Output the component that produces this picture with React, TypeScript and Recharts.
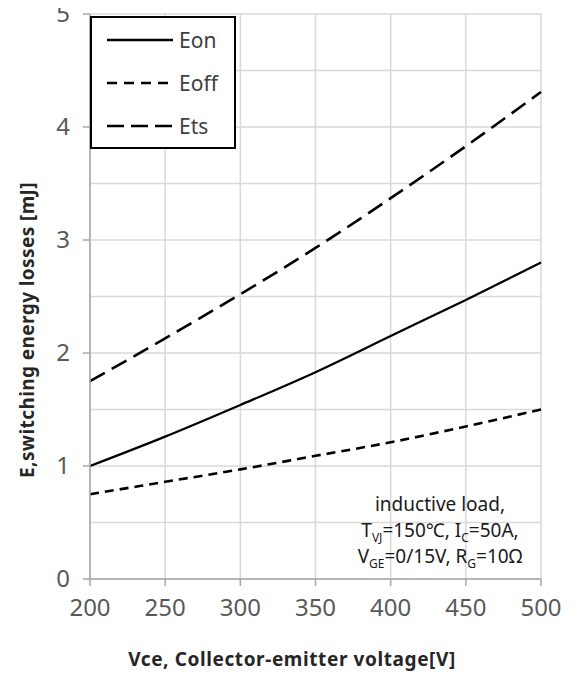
import { LineChart, Line, XAxis, YAxis, CartesianGrid, Legend } from 'recharts';

// Vce sweep points [V]
const voltages = [200, 250, 300, 350, 400, 450, 500];
// switching energy [mJ]
const eon = [1.0, 1.26, 1.54, 1.83, 2.15, 2.47, 2.8];
const eoff = [0.75, 0.86, 0.97, 1.09, 1.21, 1.35, 1.5];
const ets = [1.75, 2.13, 2.52, 2.93, 3.37, 3.83, 4.31];

const xTicks = [200, 250, 300, 350, 400, 450, 500];
const yTicks = [0, 0.5, 1, 1.5, 2, 2.5, 3, 3.5, 4, 4.5, 5];

const series = [
  { key: 'eon', name: 'Eon', dash: undefined, width: 2.2, legendDash: undefined },
  { key: 'eoff', name: 'Eoff', dash: '9 6', width: 2.6, legendDash: '10 7' },
  { key: 'ets', name: 'Ets', dash: '17 8', width: 2.6, legendDash: '17 7' },
];

const data = voltages.map((v, i) => ({ vce: v, eon: eon[i], eoff: eoff[i], ets: ets[i] }));

// chart is pulled over the body margin so these are page pixels
const W = 578;
const H = 675;
const PLOT_LEFT = 90;
const AXIS_COLOR = '#a6a6a6';
const GRID_COLOR = '#d9d9d9';
const TICK_COLOR = '#595959';
const FONT = '"Noto Sans", "Open Sans", sans-serif';

const YTick = (props: any) => {
  const { y, payload } = props;
  if (!Number.isInteger(payload.value)) return null;
  return (
    <g>
      <line x1={PLOT_LEFT - 7} x2={PLOT_LEFT} y1={y} y2={y} stroke={AXIS_COLOR} strokeWidth={1.5} />
      <text x={PLOT_LEFT - 20} y={y} dy="0.35em" textAnchor="end" fill={TICK_COLOR} fontSize={24} fontFamily={FONT}>
        {payload.value}
      </text>
    </g>
  );
};

const LegendBox = () => (
  <div
    style={{
      width: 142,
      height: 129,
      border: '2px solid #000',
      background: '#fff',
      fontFamily: FONT,
      fontSize: 21,
      color: '#404040',
      boxSizing: 'content-box',
    }}
  >
    {series.map((s, i) => (
      <div key={s.key} style={{ position: 'absolute', left: 17, top: 9 + i * 43, height: 30, display: 'flex', alignItems: 'center' }}>
        <svg width={68} height={10} style={{ display: 'block' }}>
          <line x1={0} x2={66} y1={5} y2={5} stroke="#000" strokeWidth={2.4} strokeDasharray={s.legendDash} />
        </svg>
        <span style={{ marginLeft: 4, lineHeight: '30px' }}>{s.name}</span>
      </div>
    ))}
  </div>
);

const YTitle = () => (
  <text
    x={27}
    y={330}
    transform="rotate(-90 27 330)"
    textAnchor="middle"
    dominantBaseline="central"
    fontSize={19}
    letterSpacing={0.4}
    fontWeight="bold"
    fill="#262626"
    fontFamily={FONT}
  >
    E,switching energy losses [mJ]
  </text>
);

const XTitle = () => (
  <text
    x={292}
    y={659}
    textAnchor="middle"
    dominantBaseline="central"
    fontSize={19}
    letterSpacing={0.6}
    fontWeight="bold"
    fill="#262626"
    fontFamily={FONT}
  >
    Vce, Collector-emitter voltage[V]
  </text>
);

const Sub = ({ children }: { children: string }) => (
  <span style={{ fontSize: 12, position: 'relative', top: 5, lineHeight: 0 }}>{children}</span>
);

export default function App() {
  return (
    <div style={{ position: 'relative', width: W, height: H, margin: '-8px 0 0 -8px' }}>
      <LineChart width={W} height={H} data={data} margin={{ top: 14, right: 37, left: 0, bottom: 56 }}>
        <CartesianGrid stroke={GRID_COLOR} strokeWidth={1.5} horizontal vertical />
        <XAxis
          dataKey="vce"
          type="number"
          domain={[200, 500]}
          ticks={xTicks}
          height={40}
          stroke={AXIS_COLOR}
          strokeWidth={1.5}
          tickSize={7}
          tickMargin={13}
          tick={{ fill: TICK_COLOR, fontSize: 24, fontFamily: FONT }}
          label={{ content: () => <XTitle /> }}
        />
        <YAxis
          type="number"
          domain={[0, 5]}
          ticks={yTicks}
          interval={0}
          width={PLOT_LEFT}
          stroke={AXIS_COLOR}
          strokeWidth={1.5}
          tickLine={false}
          tick={<YTick />}
          label={{ content: () => <YTitle /> }}
        />
        {series.map((s) => (
          <Line
            key={s.key}
            dataKey={s.key}
            name={s.name}
            type="monotone"
            stroke="#000"
            strokeWidth={s.width}
            strokeDasharray={s.dash}
            dot={false}
            activeDot={false}
            isAnimationActive={false}
          />
        ))}
        <Legend
          layout="horizontal"
          verticalAlign="middle"
          align="center"
          content={() => <LegendBox />}
          wrapperStyle={{ left: 90, top: 16, width: 146, height: 133 }}
        />
      </LineChart>
      <div
        style={{
          position: 'absolute',
          left: 340,
          top: 491,
          width: 200,
          textAlign: 'center',
          fontFamily: FONT,
          fontSize: 19,
          lineHeight: '26px',
          color: '#1a1a1a',
        }}
      >
        <div>inductive load,</div>
        <div>
          T<Sub>VJ</Sub>=150℃, I<Sub>C</Sub>=50A,
        </div>
        <div>
          V<Sub>GE</Sub>=0/15V, R<Sub>G</Sub>=10Ω
        </div>
      </div>
    </div>
  );
}
